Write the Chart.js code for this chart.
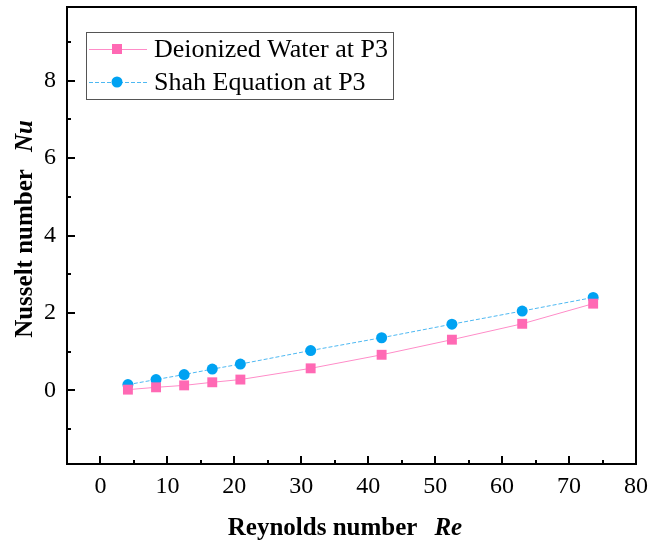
<!DOCTYPE html>
<html>
<head>
<meta charset="utf-8">
<script src="https://cdn.jsdelivr.net/npm/chart.js@4"></script>
<style>
  html, body { margin: 0; padding: 0; background: #ffffff; }
  #wrap { width: 651px; height: 544px; }
</style>
</head>
<body>
<div id="wrap"><canvas id="chart" width="651" height="544"></canvas></div>
<script>
// Data
const reynolds = [4.1, 8.3, 12.5, 16.7, 20.9, 31.4, 42.0, 52.5, 63.0, 73.6];
const nuWater = [0.02, 0.08, 0.13, 0.21, 0.28, 0.57, 0.92, 1.31, 1.72, 2.24];
const nuShah = [0.15, 0.28, 0.41, 0.55, 0.68, 1.03, 1.36, 1.71, 2.05, 2.40];
const seriesNames = ["Deionized Water at P3", "Shah Equation at P3"];
const xTicks = [0, 10, 20, 30, 40, 50, 60, 70, 80];
const xMinorTicks = [5, 15, 25, 35, 45, 55, 65, 75];
const yTicks = [0, 2, 4, 6, 8];
const yMinorTicks = [-1, 1, 3, 5, 7, 9];

const SERIF = "'Liberation Serif', 'Times New Roman', serif";

// Frame, inward ticks, axis titles and the boxed legend
const framePlugin = {
  id: "frame",
  afterDraw(chart) {
    const { ctx, chartArea: a, scales } = chart;
    const x = scales.x, y = scales.y;
    ctx.save();
    ctx.strokeStyle = "#000";
    ctx.lineWidth = 2;
    ctx.strokeRect(a.left, a.top, a.right - a.left, a.bottom - a.top);

    ctx.beginPath();
    xTicks.forEach((v) => {
      const px = Math.round(x.getPixelForValue(v));
      ctx.moveTo(px, a.bottom); ctx.lineTo(px, a.bottom - 8);
    });
    xMinorTicks.forEach((v) => {
      const px = Math.round(x.getPixelForValue(v));
      ctx.moveTo(px, a.bottom); ctx.lineTo(px, a.bottom - 4);
    });
    yTicks.forEach((v) => {
      const py = Math.round(y.getPixelForValue(v));
      ctx.moveTo(a.left, py); ctx.lineTo(a.left + 8, py);
    });
    yMinorTicks.forEach((v) => {
      const py = Math.round(y.getPixelForValue(v));
      ctx.moveTo(a.left, py); ctx.lineTo(a.left + 4, py);
    });
    ctx.stroke();

    // axis titles (mixed bold / bold italic)
    ctx.fillStyle = "#000";
    ctx.textBaseline = "alphabetic";
    const drawTitle = (plain, sym, cx, cy, rot) => {
      ctx.save();
      ctx.translate(cx, cy);
      ctx.rotate(rot);
      ctx.font = "bold 25px " + SERIF;
      const w1 = ctx.measureText(plain).width;
      ctx.font = "italic bold 25px " + SERIF;
      const w2 = ctx.measureText(sym).width;
      const gap = 17;
      const total = w1 + gap + w2;
      ctx.textAlign = "left";
      ctx.font = "bold 25px " + SERIF;
      ctx.fillText(plain, -total / 2, 0);
      ctx.font = "italic bold 25px " + SERIF;
      ctx.fillText(sym, -total / 2 + w1 + gap, 0);
      ctx.restore();
    };
    drawTitle("Reynolds number", "Re", 345, 535, 0);
    drawTitle("Nusselt number", "Nu", 32, 229, -Math.PI / 2);

    // legend
    ctx.lineWidth = 1;
    ctx.strokeStyle = "#555";
    ctx.strokeRect(86.5, 32.5, 307, 67);
    const rows = [49, 82];
    chart.data.datasets.forEach((ds, i) => {
      const ry = rows[i];
      ctx.save();
      ctx.strokeStyle = ds.borderColor;
      ctx.lineWidth = 1;
      ctx.setLineDash(ds.borderDash || []);
      ctx.beginPath();
      ctx.moveTo(89, ry + 0.5); ctx.lineTo(147, ry + 0.5);
      ctx.stroke();
      ctx.restore();
      ctx.fillStyle = ds.pointBackgroundColor;
      if (ds.pointStyle === "rect") {
        ctx.fillRect(117 - 5, ry - 5, 10, 10);
      } else {
        ctx.beginPath();
        ctx.arc(117, ry, 5.5, 0, Math.PI * 2);
        ctx.fill();
      }
      ctx.fillStyle = "#000";
      ctx.font = "26px " + SERIF;
      ctx.textAlign = "left";
      ctx.textBaseline = "middle";
      ctx.fillText(seriesNames[i], 154, ry + 1);
    });
    ctx.restore();
  },
};

const ctx = document.getElementById("chart").getContext("2d");
new Chart(ctx, {
  type: "line",
  data: {
    datasets: [
      {
        label: seriesNames[0],
        data: reynolds.map((r, i) => ({ x: r, y: nuWater[i] })),
        borderColor: "#ff8cc8",
        borderWidth: 1,
        pointStyle: "rect",
        pointRadius: 7,
        pointBackgroundColor: "#ff69b4",
        pointBorderColor: "#ff69b4",
        pointBorderWidth: 0,
        tension: 0,
      },
      {
        label: seriesNames[1],
        data: reynolds.map((r, i) => ({ x: r, y: nuShah[i] })),
        borderColor: "#4db8f2",
        borderWidth: 1,
        borderDash: [4, 2],
        pointStyle: "circle",
        pointRadius: 5.5,
        pointBackgroundColor: "#00a2f2",
        pointBorderColor: "#00a2f2",
        pointBorderWidth: 0,
        tension: 0,
      },
    ],
  },
  options: {
    responsive: false,
    animation: false,
    events: [],
    layout: { padding: { top: 5, right: 15, left: 0, bottom: 0 } },
    plugins: {
      legend: { display: false },
      tooltip: { enabled: false },
    },
    scales: {
      x: {
        type: "linear",
        min: -5,
        max: 80,
        afterBuildTicks: (s) => { s.ticks = xTicks.map((v) => ({ value: v })); },
        afterFit: (s) => {
          s.height = 80;
          s.paddingLeft = 0;
          s.paddingRight = 0;
        },
        grid: { display: false, drawTicks: false },
        border: { display: false },
        ticks: {
          color: "#000",
          padding: 8,
          maxRotation: 0,
          font: { family: SERIF, size: 24 },
        },
      },
      y: {
        type: "linear",
        min: -1.9,
        max: 9.9,
        afterBuildTicks: (s) => { s.ticks = yTicks.map((v) => ({ value: v })); },
        afterFit: (s) => {
          s.width = 67;
          s.paddingTop = 0;
          s.paddingBottom = 0;
        },
        grid: { display: false, drawTicks: false },
        border: { display: false },
        ticks: {
          color: "#000",
          padding: 11,
          font: { family: SERIF, size: 24 },
        },
      },
    },
  },
  plugins: [framePlugin],
});
</script>
</body>
</html>
